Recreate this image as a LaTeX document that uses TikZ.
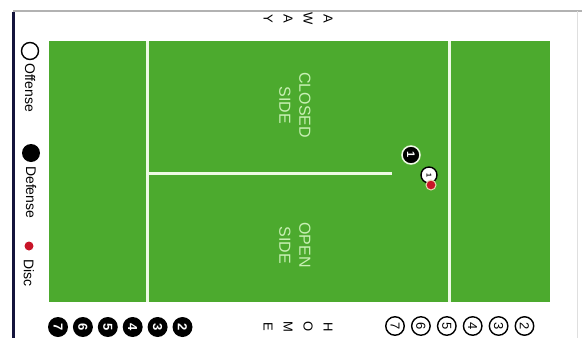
\documentclass[tikz,border=0pt]{standalone}
\usepackage{fontspec}
\setmainfont{Liberation Sans}
\usetikzlibrary{positioning}
\definecolor{turf}{RGB}{76,170,46}
\definecolor{chalk}{RGB}{238,250,228}
\definecolor{sidetext}{RGB}{200,240,180}
\definecolor{navy}{RGB}{20,20,60}
\definecolor{discred}{RGB}{200,20,40}
\definecolor{discrim}{RGB}{235,220,180}

\begin{document}
\begin{tikzpicture}[
    x=1pt, y=-1pt,
    every node/.style={font=\fontsize{11}{13}\selectfont},
    chalkline/.style={chalk, line width=3pt},
    sidelabel/.style={
        rotate=-90, align=center, text=sidetext, inner sep=0pt,
        font=\fontsize{16}{20}\selectfont
    },
    legendtext/.style={rotate=-90, anchor=west, inner sep=0pt, font=\fontsize{14}{17}\selectfont},
    endzone/.style={rotate=-90, align=center, inner sep=0pt, font=\fontsize{13}{20}\selectfont},
    dplayer/.style={
        circle, fill=black, text=white, minimum size=20pt, inner sep=0pt,
        font=\bfseries\fontsize{13}{13}\selectfont
    },
    oplayer/.style={
        circle, fill=white, draw=black, line width=1.4pt, minimum size=18.5pt, inner sep=0pt,
        font=\fontsize{13}{13}\selectfont
    }
]
\useasboundingbox (0,0) rectangle (582,338);

% frame
\draw[gray!60, line width=1.5pt] (13,11) -- (582,11);
\draw[gray!25, line width=0.8pt] (577,11) -- (577,338);
\draw[navy, line width=3pt] (13,12) -- (13,338);

% field
\fill[turf] (49,41) rectangle (550,302);
\draw[chalkline] (147,41) -- (147,302);
\draw[chalkline] (449,41) -- (449,302);
\draw[chalkline] (147,173) -- (392,173);

\node[sidelabel] (closed) at (295,105) {CLOSED\\SIDE};
\node[sidelabel] (open) at (295,245) {OPEN\\SIDE};

% end zones
\node[endzone] (away) at (298,19) {A\\W\\A\\Y};
\node[endzone] (home) at (298,327) {H\\O\\M\\E};

% players on the field
\node[dplayer, draw=chalk, line width=1.5pt, minimum size=18pt, font=\bfseries\fontsize{11}{11}\selectfont] (D1) at (411,155) {\rotatebox{-90}{1}};
\node[oplayer, minimum size=16pt] (O1) at (429,175) {\rotatebox{-90}{\scriptsize\bfseries 1}};
\node[circle, fill=discred, draw=discrim, line width=1pt, minimum size=10pt, inner sep=0pt] (disc) at (431,185) {};

% legend
\node[oplayer, minimum size=17pt] (Loff) at (30,51) {};
\node[legendtext] (Lofftext) at (30,63) {Offense};
\node[circle, fill=black, minimum size=18pt, inner sep=0pt] (Ldef) at (31,153) {};
\node[legendtext] (Ldeftext) at (31,166) {Defense};
\node[circle, fill=discred, minimum size=9pt, inner sep=0pt] (Ldisc) at (29,246) {};
\node[legendtext] (Ldisctext) at (29,259) {Disc};

% defense line-up
\node[dplayer] (D7) at (58,327) {\rotatebox{-90}{7}};
\node[dplayer, right=4.5pt of D7] (D6) {\rotatebox{-90}{6}};
\node[dplayer, right=4.5pt of D6] (D5) {\rotatebox{-90}{5}};
\node[dplayer, right=4.5pt of D5] (D4) {\rotatebox{-90}{4}};
\node[dplayer, right=4.5pt of D4] (D3) {\rotatebox{-90}{3}};
\node[dplayer, right=4.5pt of D3] (D2) {\rotatebox{-90}{2}};

% offense line-up
\node[oplayer] (O7) at (395,326) {\rotatebox{-90}{7}};
\node[oplayer, right=6pt of O7] (O6) {\rotatebox{-90}{6}};
\node[oplayer, right=6pt of O6] (O5) {\rotatebox{-90}{5}};
\node[oplayer, right=6pt of O5] (O4) {\rotatebox{-90}{4}};
\node[oplayer, right=6pt of O4] (O3) {\rotatebox{-90}{3}};
\node[oplayer, right=6pt of O3] (O2) {\rotatebox{-90}{2}};

\end{tikzpicture}
\end{document}
